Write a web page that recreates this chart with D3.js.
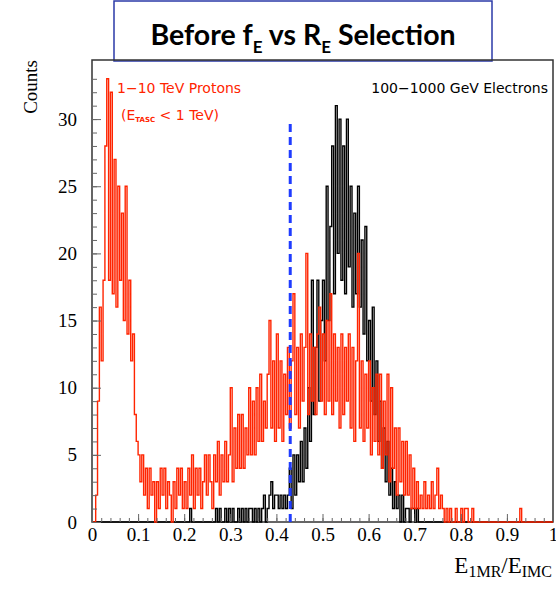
<!DOCTYPE html>
<html>
<head>
<meta charset="utf-8">
<script src="https://cdn.jsdelivr.net/npm/d3@7"></script>
<style>
body { margin: 0; background: #fff; }
text { fill: #000; }
</style>
</head>
<body>
<div id="vis"></div>
<script>
// 250 bins from 0 to 1
var binWidth = 0.004;

// 1-10 TeV protons (E_TASC < 1 TeV)
var protons = [
    0, 0, 2, 9, 16, 12, 18, 28, 33, 18, 32, 17, 27, 16, 25, 18, 23, 15, 25, 14, 18, 12, 14, 8, 6,
    5, 3, 5, 2, 4, 1, 4, 2, 3, 0, 3, 1, 4, 2, 4, 1, 3, 2, 0, 3, 1, 4, 2, 4, 1,
    3, 1, 4, 2, 5, 1, 4, 2, 4, 1, 3, 5, 2, 5, 3, 1, 5, 3, 6, 2, 5, 3, 6, 3, 5,
    10, 3, 7, 4, 8, 4, 8, 4, 7, 5, 10, 5, 9, 5, 10, 6, 11, 6, 9, 7, 11, 15, 7, 12, 6,
    14, 7, 12, 6, 11, 8, 13, 7, 12, 17, 8, 13, 7, 14, 9, 13, 20, 8, 14, 9, 13, 8, 14, 16, 9,
    14, 8, 15, 9, 17, 8, 14, 9, 13, 7, 14, 8, 13, 9, 14, 7, 13, 6, 12, 20, 7, 12, 6, 11, 7,
    12, 5, 10, 6, 11, 5, 11, 4, 9, 5, 11, 3, 10, 4, 7, 2, 7, 3, 6, 2, 6, 2, 5, 1, 4,
    1, 3, 1, 2, 1, 3, 1, 2, 1, 3, 1, 2, 4, 1, 2, 1, 0, 1, 0, 1, 0, 0, 1, 0, 0,
    1, 0, 1, 1, 0, 0, 1, 0, 0, 0, 0, 0, 0, 0, 0, 0, 0, 0, 0, 0, 0, 0, 0, 0, 0,
    0, 0, 0, 0, 0, 0, 0, 1, 0, 0, 0, 0, 0, 0, 0, 0, 0, 0, 0, 0, 0, 0, 0, 0, 0
];

// 100-1000 GeV electrons
var electrons = [
    0, 0, 0, 0, 0, 0, 0, 0, 0, 0, 0, 0, 0, 0, 0, 0, 0, 0, 0, 0, 0, 0, 0, 0, 0,
    0, 0, 0, 0, 0, 0, 0, 0, 0, 0, 0, 0, 0, 0, 0, 0, 0, 0, 0, 0, 0, 0, 0, 0, 0,
    0, 0, 0, 1, 0, 0, 0, 0, 0, 0, 0, 0, 0, 0, 0, 0, 0, 1, 0, 1, 0, 0, 1, 0, 1,
    0, 1, 0, 0, 1, 0, 1, 0, 1, 0, 1, 1, 0, 1, 0, 1, 0, 1, 2, 0, 1, 2, 3, 1, 2,
    2, 1, 2, 1, 2, 1, 2, 4, 1, 5, 2, 5, 3, 6, 3, 7, 4, 10, 6, 18, 8, 13, 18, 9, 15,
    18, 12, 25, 15, 22, 28, 17, 31, 20, 30, 18, 28, 17, 30, 19, 25, 16, 23, 17, 25, 16, 21, 14, 22, 12,
    15, 9, 16, 8, 12, 6, 9, 4, 7, 3, 6, 2, 4, 1, 3, 1, 2, 0, 2, 0, 1, 1, 0, 1, 1,
    0, 1, 0, 0, 0, 0, 0, 0, 0, 0, 0, 0, 0, 0, 0, 0, 0, 0, 0, 0, 0, 0, 0, 0, 0,
    0, 0, 0, 0, 0, 0, 0, 0, 0, 0, 0, 0, 0, 0, 0, 0, 0, 0, 0, 0, 0, 0, 0, 0, 0,
    0, 0, 0, 0, 0, 0, 0, 0, 0, 0, 0, 0, 0, 0, 0, 0, 0, 0, 0, 0, 0, 0, 0, 0, 0
];

var xTicks = [0, 0.1, 0.2, 0.3, 0.4, 0.5, 0.6, 0.7, 0.8, 0.9, 1];
var yTicks = [0, 5, 10, 15, 20, 25, 30];
var xMinorStep = 0.02;
var yMinorStep = 1;
var yMax = 34.4;

// selection cut (dashed line)
var cutValue = 0.43;
var cutTop = 30;

var width = 556;
var height = 589;

var margin = {
    top: 60,
    left: 92,
    right: 3,
    bottom: 67
};

var svg = d3.select("#vis")
    .append("svg")
    .attr("width", width)
    .attr("height", height);

var xscale = d3.scaleLinear()
    .domain([0, 1])
    .range([margin.left, width - margin.right]);

var yscale = d3.scaleLinear()
    .domain([0, yMax])
    .range([height - margin.bottom, margin.top]);

// title box
svg.append("rect")
    .attr("x", 114)
    .attr("y", 1)
    .attr("width", 378)
    .attr("height", 60)
    .attr("fill", "#fff")
    .attr("stroke", "#2b3aa8")
    .attr("stroke-width", 1.5);

var title = svg.append("text")
    .attr("x", 303)
    .attr("y", 45)
    .attr("text-anchor", "middle")
    .style("font-family", "Lato, 'Open Sans', sans-serif")
    .style("font-weight", "bold")
    .style("font-size", "28.5px");
title.append("tspan").text("Before f");
title.append("tspan").attr("dy", 8).style("font-size", "17px").text("E");
title.append("tspan").attr("dy", -8).text(" vs R");
title.append("tspan").attr("dy", 8).style("font-size", "17px").text("E");
title.append("tspan").attr("dy", -8).text(" Selection");

// frame
svg.append("rect")
    .attr("x", xscale(0))
    .attr("y", yscale(yMax))
    .attr("width", xscale(1) - xscale(0))
    .attr("height", yscale(0) - yscale(yMax))
    .attr("fill", "none")
    .attr("stroke", "#333")
    .attr("stroke-width", 1.5);

// histograms drawn as steps
function histPoints(vals) {
    var pts = vals.map(function (v, i) {
        return [i * binWidth, v];
    });
    pts.push([vals.length * binWidth, vals[vals.length - 1]]);
    return pts;
}

var step = d3.line()
    .x(function (d) { return xscale(d[0]); })
    .y(function (d) { return yscale(d[1]); })
    .curve(d3.curveStepAfter);

svg.append("path")
    .datum(histPoints(electrons))
    .attr("d", step)
    .attr("fill", "none")
    .attr("stroke", "#000")
    .attr("stroke-width", 1.4);

svg.append("path")
    .datum(histPoints(protons))
    .attr("d", step)
    .attr("fill", "none")
    .attr("stroke", "#ff2400")
    .attr("stroke-width", 1.4);

// axes, ticks point inside the frame
var xMinor = d3.range(0, 51).map(function (i) { return i * xMinorStep; });
var yMinor = d3.range(0, 34).map(function (i) { return i * yMinorStep; });

var gx = svg.append("g")
    .attr("transform", "translate(0," + yscale(0) + ")");
gx.append("g")
    .call(d3.axisBottom(xscale).tickValues(xMinor).tickSize(-4).tickFormat(""));
gx.append("g")
    .call(d3.axisBottom(xscale).tickValues(xTicks).tickSize(-8).tickPadding(6)
        .tickFormat(d3.format("~g")));

var gy = svg.append("g")
    .attr("transform", "translate(" + xscale(0) + ",0)");
gy.append("g")
    .call(d3.axisLeft(yscale).tickValues(yMinor).tickSize(-5).tickFormat(""));
gy.append("g")
    .call(d3.axisLeft(yscale).tickValues(yTicks).tickSize(-9).tickPadding(15));

svg.selectAll(".domain").remove();
svg.selectAll(".tick line").attr("stroke", "#666");
svg.selectAll(".tick text")
    .style("font-family", "'Liberation Serif', 'Times New Roman', serif")
    .style("font-size", "19px")
    .attr("fill", "#000");

// cut line
svg.append("line")
    .attr("x1", xscale(cutValue))
    .attr("x2", xscale(cutValue))
    .attr("y1", yscale(0))
    .attr("y2", yscale(cutTop))
    .attr("stroke", "#1f3cff")
    .attr("stroke-width", 3)
    .attr("stroke-dasharray", "8,5");

// axis titles
svg.append("text")
    .attr("transform", "translate(37," + margin.top + ") rotate(-90)")
    .attr("text-anchor", "end")
    .style("font-family", "'Liberation Serif', serif")
    .style("font-size", "19px")
    .text("Counts");

var xlab = svg.append("text")
    .attr("x", 552)
    .attr("y", 573)
    .attr("text-anchor", "end")
    .style("font-family", "'Liberation Serif', serif")
    .style("font-size", "23px");
xlab.append("tspan").text("E");
xlab.append("tspan").attr("dy", 4).style("font-size", "16px").text("1MR");
xlab.append("tspan").attr("dy", -4).text("/E");
xlab.append("tspan").attr("dy", 4).style("font-size", "16px").text("IMC");

// legends
var labelFont = "'DejaVu Sans', sans-serif";

svg.append("text")
    .attr("x", 117)
    .attr("y", 93)
    .style("font-family", labelFont)
    .style("font-size", "14px")
    .style("fill", "#ff2400")
    .text("1\u221210 TeV Protons");

var sub = svg.append("text")
    .attr("x", 121)
    .attr("y", 120)
    .style("font-family", labelFont)
    .style("font-size", "14px")
    .style("fill", "#ff2400");
sub.append("tspan").text("(E");
sub.append("tspan").attr("dy", 2).style("font-size", "7px").style("font-weight", "bold").text("TASC");
sub.append("tspan").attr("dy", -2).text(" < 1 TeV)");

svg.append("text")
    .attr("x", 548)
    .attr("y", 93)
    .attr("text-anchor", "end")
    .style("font-family", labelFont)
    .style("font-size", "14px")
    .text("100\u22121000 GeV Electrons");
</script>
</body>
</html>
